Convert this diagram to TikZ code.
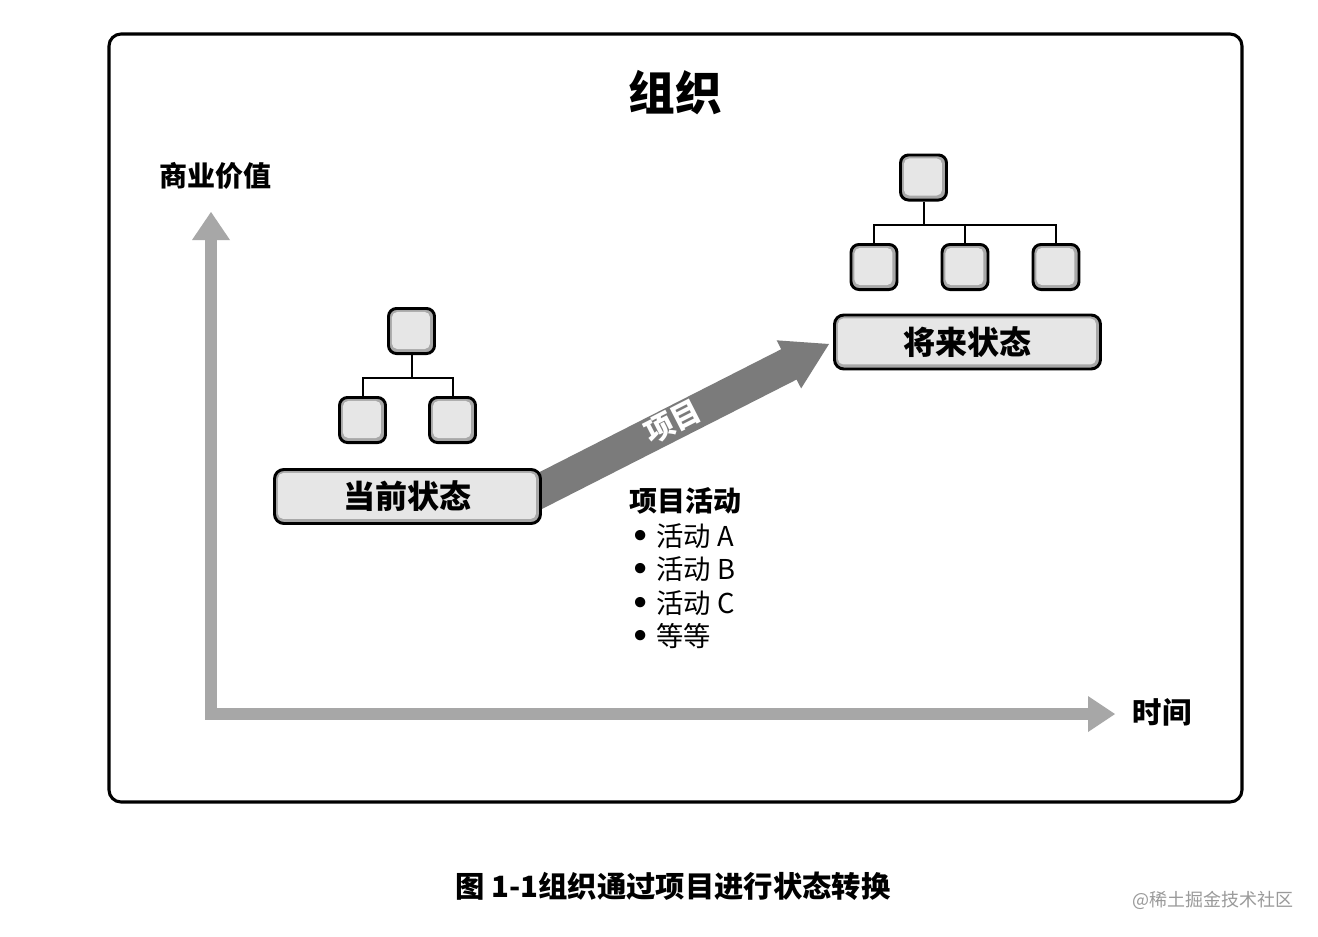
\documentclass[tikz,border=0pt]{standalone}
\usepackage{fontspec}
\usetikzlibrary{calc}
\newfontfamily\cjk{Noto Sans CJK SC}
\newfontfamily\sym{DejaVu Sans}
\definecolor{boxgray}{HTML}{E6E6E6}
\definecolor{bandgray}{HTML}{A8A8A8}
\definecolor{axisgray}{HTML}{A7A7A7}
\definecolor{projgray}{HTML}{7B7B7B}
\definecolor{markgray}{HTML}{9A9A9A}
\newcommand{\blt}{\makebox[24pt][c]{\sym\bfseries\fontsize{22}{24}\selectfont •}}
\tikzset{
  boxbase/.style={draw=black, line width=2.2pt, fill=bandgray, inner sep=0pt,
    path picture={\fill[boxgray, rounded corners=4pt]
      ([shift={(2.6pt,-2.6pt)}]path picture bounding box.north west) rectangle
      ([shift={(-3.4pt,3.4pt)}]path picture bounding box.south east);}},
  orgbox/.style={boxbase, rounded corners=6pt, minimum width=34.5pt, minimum height=33.8pt},
  statebox/.style={boxbase, rounded corners=7pt, minimum width=199.5pt, minimum height=40.5pt,
    font=\cjk\bfseries\fontsize{24}{28}\selectfont},
  link/.style={draw=black, line width=1.5pt},
  axisline/.style={draw=axisgray, line width=9pt, line join=miter},
  axishead/.style={fill=axisgray},
  lbl/.style={font=\cjk\bfseries\fontsize{21}{25}\selectfont, inner sep=0pt},
  item/.style={font=\cjk\fontsize{20.5}{24}\selectfont, inner sep=0pt, anchor=west},
}
\begin{document}
\begin{tikzpicture}[x=0.75pt,y=-0.75pt]
\useasboundingbox (0,0) rectangle (1318,936);
\fill[white] (0,0) rectangle (1318,936);
% frame
\draw[line width=2.3pt, rounded corners=9pt] (109,34) rectangle (1242,802);
% title
\node[font=\cjk\bfseries\fontsize{35}{40}\selectfont, inner sep=0pt] (title) at (675,93) {组织};
% axes
\coordinate (ytip) at (211,212);
\coordinate (org) at (211,714);
\coordinate (xtip) at (1115,714);
\draw[axisline] ($(ytip)+(0,27)$) -- (org) -- ($(xtip)+(-26,0)$);
\fill[axishead] (ytip) -- ($(ytip)+(-19,28)$) -- ($(ytip)+(19,28)$) -- cycle;
\fill[axishead] (xtip) -- ($(xtip)+(-27,-18)$) -- ($(xtip)+(-27,18)$) -- cycle;
\node[lbl] (yl) at (215,176) {商业价值};
\node[lbl, font=\cjk\bfseries\fontsize{22}{26}\selectfont] (xl) at (1162,712) {时间};
% project arrow
\coordinate (S) at (530,496);
\coordinate (T) at (829,344);
\coordinate (B) at ($(T)!33.75pt!(S)$);
\fill[projgray] ($(S)!12.75pt!90:(T)$) -- ($(B)!12.75pt!90:(T)$) -- ($(B)!20.25pt!90:(T)$)
  -- (T) -- ($(B)!20.25pt!-90:(T)$) -- ($(B)!12.75pt!-90:(T)$) -- ($(S)!12.75pt!-90:(T)$) -- cycle;
\node[font=\cjk\bfseries\fontsize{22}{26}\selectfont, text=white, rotate=27, inner sep=0pt] (proj) at (673,422) {项目};
% current state
\node[orgbox] (c0) at (411.5,331) {};
\node[orgbox] (c1) at (362.5,420) {};
\node[orgbox] (c2) at (452.5,420) {};
\draw[link] (c0.south) -- ++(0,23) coordinate (cj);
\draw[link] (c1.north) |- (cj) -| (c2.north);
\node[statebox] (cur) at (407.5,496.5) {当前状态};
% future state
\node[orgbox] (f0) at (923.5,177.5) {};
\node[orgbox] (f1) at (874,267) {};
\node[orgbox] (f2) at (965,267) {};
\node[orgbox] (f3) at (1056,267) {};
\draw[link] (f0.south) -- ++(0,23) coordinate (fj);
\draw[link] (f1.north) |- (fj) -| (f3.north);
\draw[link] (f2.north) -- (f2.north |- fj);
\node[statebox] (fut) at (967.5,342) {将来状态};
% activities
\node[lbl, anchor=west] (act) at (629,501) {项目活动};
\node[item] (a1) at (624,536) {\blt 活动 A};
\node[item] (a2) at (624,569) {\blt 活动 B};
\node[item] (a3) at (624,603) {\blt 活动 C};
\node[item] (a4) at (624,636) {\blt 等等};
% caption
\node[lbl, font=\cjk\bfseries\fontsize{22}{26}\selectfont] (cap) at (673,886) {图 1-1组织通过项目进行状态转换};
\node[font=\cjk\fontsize{13.5}{16}\selectfont, text=markgray, inner sep=0pt] (wm) at (1213,900) {@稀土掘金技术社区};
\end{tikzpicture}
\end{document}
